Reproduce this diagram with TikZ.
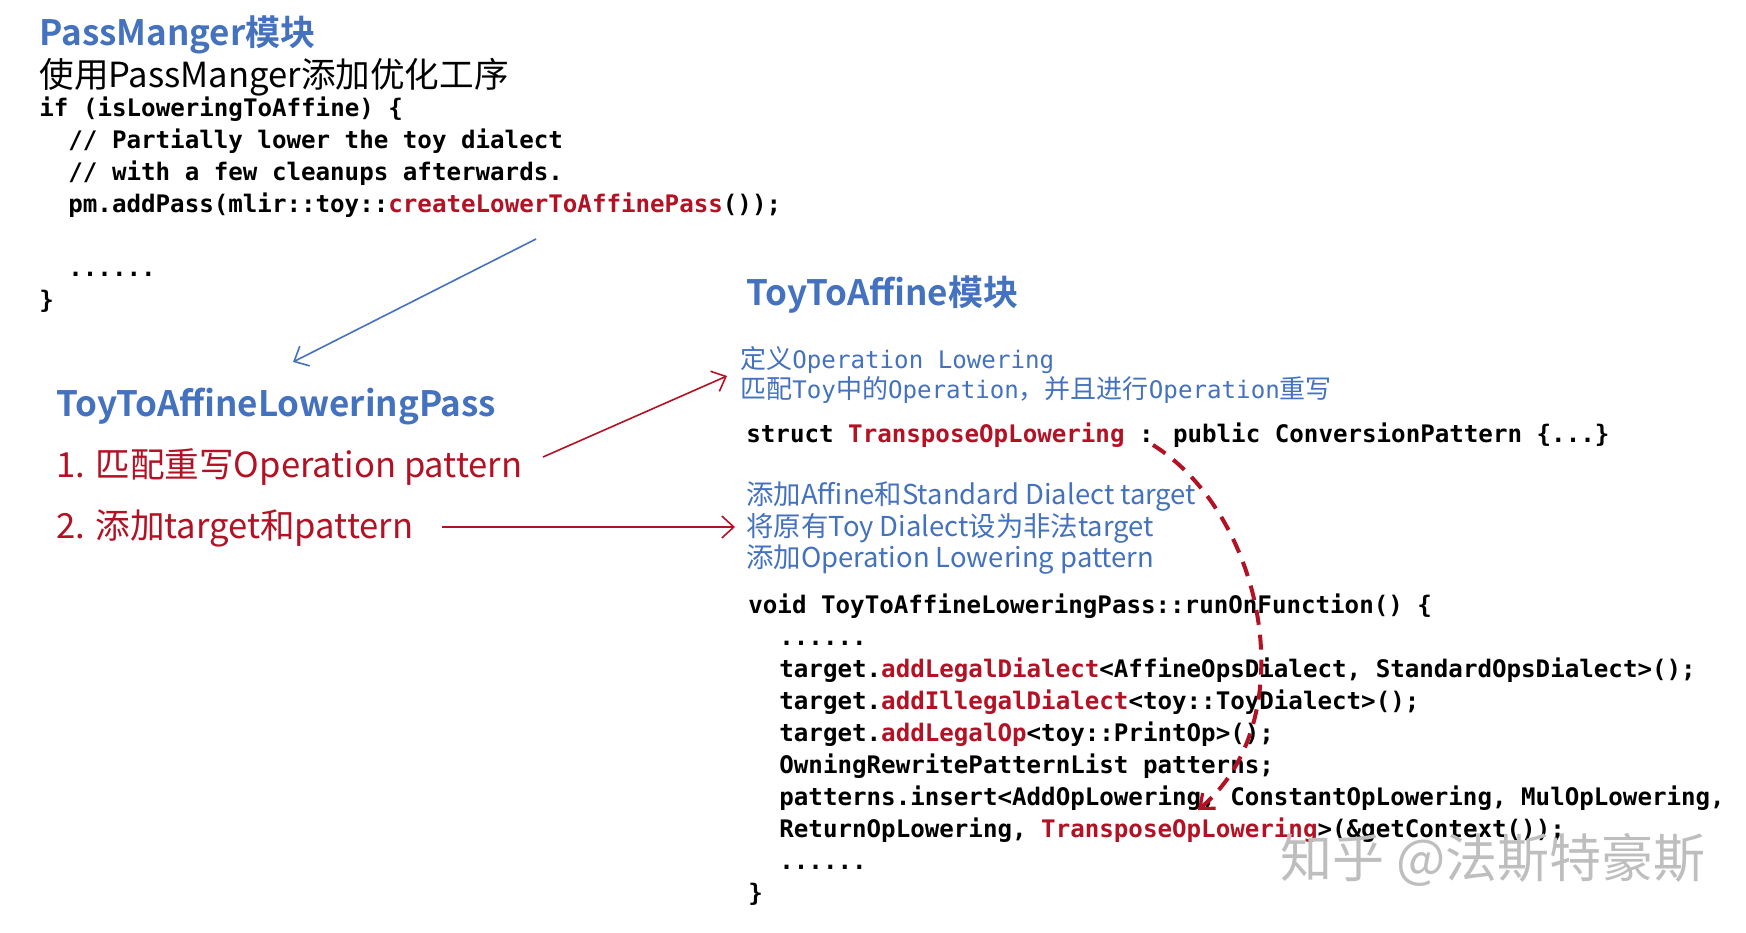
\documentclass[tikz,border=0pt]{standalone}
\usepackage{fontspec}
\usetikzlibrary{arrows.meta}
\newfontfamily\sansface[BoldFont={Noto Sans CJK SC Bold}]{Noto Sans CJK SC}
\newfontfamily\cjkface{Noto Sans CJK SC}
\newfontfamily\codeface{DejaVu Sans Mono}
\definecolor{hblue}{RGB}{68,114,190}
\definecolor{hred}{RGB}{178,18,36}
\definecolor{wmark}{RGB}{190,190,190}
\newcommand{\rd}[1]{\textcolor{hred}{#1}}
\newcommand{\cj}[1]{{\cjkface\fontsize{13}{16}\selectfont #1}}
\tikzset{
  txt/.style={anchor=west, inner sep=0pt, text height=0.7em, text depth=0pt},
  codeline/.style={txt, font=\fontsize{12.08}{16}\selectfont\codeface\bfseries},
  noteline/.style={txt, text=hblue, font=\fontsize{12.08}{16}\selectfont\codeface},
  heading/.style={txt, text=hblue, font=\fontsize{17.5}{21}\selectfont\sansface\bfseries},
  bignote/.style={txt, font=\fontsize{17.3}{21}\selectfont\sansface},
  bluenote/.style={txt, text=hblue, font=\fontsize{13.7}{17}\selectfont\sansface},
  link/.style={line width=0.8pt, -{Straight Barb[length=6pt,width=11pt,line width=0.8pt]}},
}
\begin{document}
\begin{tikzpicture}[x=0.5pt,y=-0.5pt]
\useasboundingbox (0,0) rectangle (1746,932);
\fill[white] (0,0) rectangle (1746,932);

% ---- PassManger block ----
\node[heading] (pmtitle) at (39,38) {PassManger模块};
\node[bignote] (pmsub) at (39,80) {使用PassManger添加优化工序};
\node[codeline] (c1) at (39,109) {if (isLoweringToAffine) \{};
\node[codeline] (c2) at (68,141) {// Partially lower the toy dialect};
\node[codeline] (c3) at (68,173) {// with a few cleanups afterwards.};
\node[codeline] (c4) at (68,205) {pm.addPass(mlir::toy::\rd{createLowerToAffinePass}());};
\node[codeline] (c5) at (68,269) {......};
\node[codeline] (c6) at (39,301) {\}};

% ---- lowering pass summary ----
\node[txt, text=hblue, font=\fontsize{17.5}{21}\selectfont\sansface\bfseries] (passname) at (56,409) {ToyToAffineLoweringPass};
\node[bignote, text=hred] (step1) at (56,470) {1. 匹配重写Operation pattern};
\node[bignote, text=hred] (step2) at (56,531) {2. 添加target和pattern};

% ---- ToyToAffine block ----
\node[heading] (tatitle) at (746,298) {ToyToAffine模块};
\node[noteline] (n1) at (740,361) {\cj{定义}Operation Lowering};
\node[noteline] (n2) at (740,391) {\cj{匹配}Toy\cj{中的}Operation\cj{，并且进行}Operation\cj{重写}};
\node[codeline] (st) at (746,435) {struct \rd{TransposeOpLowering} : public ConversionPattern \{...\}};

\node[bluenote] (b1) at (746,497) {添加Affine和Standard Dialect target};
\node[bluenote] (b2) at (746,529) {将原有Toy Dialect设为非法target};
\node[bluenote] (b3) at (746,560) {添加Operation Lowering pattern};

\node[codeline] (r1) at (748,606) {void ToyToAffineLoweringPass::runOnFunction() \{};
\node[codeline] (r2) at (779,638) {......};
\node[codeline] (r3) at (779,670) {target.\rd{addLegalDialect}<AffineOpsDialect, StandardOpsDialect>();};
\node[codeline] (r4) at (779,702) {target.\rd{addIllegalDialect}<toy::ToyDialect>();};
\node[codeline] (r5) at (779,734) {target.\rd{addLegalOp}<toy::PrintOp>();};
\node[codeline] (r6) at (779,766) {OwningRewritePatternList patterns;};
\node[codeline] (r7) at (779,798) {patterns.insert<AddOpLowering, ConstantOpLowering, MulOpLowering,};
\node[codeline] (r8) at (779,830) {ReturnOpLowering, \rd{TransposeOpLowering}>(\&getContext());};
\node[codeline] (r9) at (779,862) {......};
\node[codeline] (r10) at (748,894) {\}};

% ---- watermark ----
\node[txt, text=wmark, font=\fontsize{26}{30}\selectfont\sansface] (wm) at (1280,870) {知乎 @法斯特豪斯};

% ---- connectors ----
\coordinate (pmfrom) at (536,239);
\coordinate (passto) at (293,362);
\draw[link, hblue] (pmfrom) -- (passto);

\coordinate (s1from) at (543,457);
\coordinate (s1to) at (727,376);
\draw[link, hred] (s1from) -- (s1to);

\coordinate (s2from) at (442,527);
\coordinate (s2to) at (735,527);
\draw[link, hred] (s2from) -- (s2to);

\coordinate (dashfrom) at (1153,445);
\coordinate (dashto) at (1198,810);
\draw[hred, line width=2pt, dash pattern=on 7.5pt off 5pt,
      -{Straight Barb[length=6pt,width=10pt,line width=1.6pt]}]
  (dashfrom) .. controls (1265,515) and (1305,720) .. (dashto);
\end{tikzpicture}
\end{document}
